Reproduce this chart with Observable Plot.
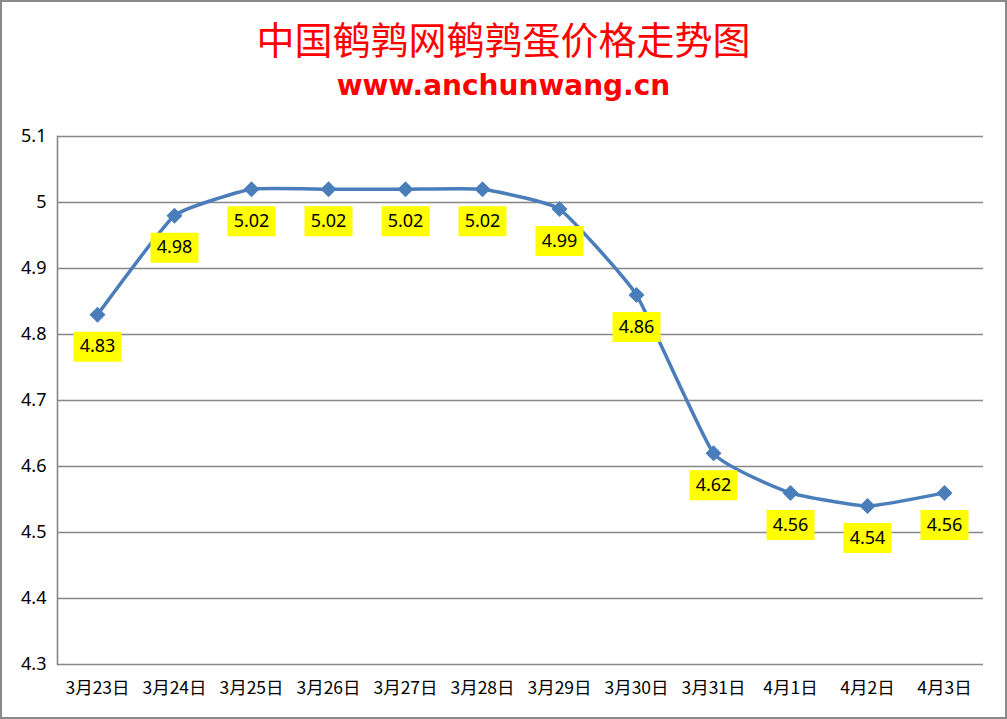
<!DOCTYPE html>
<html><head><meta charset="utf-8">
<script src="https://cdn.jsdelivr.net/npm/d3@7"></script>
<script src="https://cdn.jsdelivr.net/npm/@observablehq/plot@0.6"></script>
<style>
html,body{margin:0;padding:0;background:#fff;}
#wrap{position:relative;box-sizing:border-box;width:1007px;height:719px;border:2px solid #898989;background:#fff;overflow:hidden;}
#title{position:absolute;left:0;right:0;top:13px;text-align:center;font-family:"Noto Sans CJK SC",sans-serif;font-size:38px;line-height:46px;color:#ff0000;}
#sub{position:absolute;left:0;right:0;top:64px;text-align:center;font-family:"DejaVu Sans",sans-serif;font-weight:bold;font-size:28px;line-height:40px;color:#ff0000;}
#chart{position:absolute;left:0;top:105px;}
</style></head>
<body>
<div id="wrap">
<div id="title">中国鹌鹑网鹌鹑蛋价格走势图</div>
<div id="sub">www.anchunwang.cn</div>
<div id="chart"></div>
</div>
<script>
const dates = ["3月23日","3月24日","3月25日","3月26日","3月27日","3月28日","3月29日","3月30日","3月31日","4月1日","4月2日","4月3日"];
const prices = [4.83,4.98,5.02,5.02,5.02,5.02,4.99,4.86,4.62,4.56,4.54,4.56];
const yTicks = [4.3,4.4,4.5,4.6,4.7,4.8,4.9,5.0,5.1];

const data = dates.map((d,i)=>({date:d, price:prices[i]}));
const diamond = {draw(ctx){ctx.moveTo(0,-8);ctx.lineTo(8,0);ctx.lineTo(0,8);ctx.lineTo(-8,0);ctx.closePath();}};
const box = {draw(ctx){ctx.rect(-24,-15,48,30);}};
const gridColor = "#878787";

const chart = Plot.plot({
  width: 1003,
  height: 610,
  marginTop: 29,
  marginBottom: 53,
  marginLeft: 55,
  marginRight: 22,
  style: {fontFamily: "'Noto Sans', 'Noto Sans CJK SC', sans-serif", fontSize: "16px", color: "#000", background: "#fff"},
  x: {type: "point", domain: dates, padding: 0.5, label: null},
  y: {domain: [4.3, 5.1], ticks: yTicks, label: null},
  marks: [
    Plot.gridY(yTicks, {stroke: gridColor, strokeOpacity: 1, strokeWidth: 1.6}),
    Plot.frame({anchor: "left", stroke: gridColor, strokeWidth: 1.6}),
    Plot.axisY(yTicks, {tickSize: 0, tickPadding: 11, tickFormat: d => String(+d.toFixed(1)), fontSize: 18, fill: "#000"}),
    Plot.axisX({tickSize: 0, tickPadding: 17, fontSize: 17.5, fontFamily: "'Noto Sans CJK SC', sans-serif", fill: "#000"}),
    Plot.line(data, {x: "date", y: "price", stroke: "#4A7EBB", strokeWidth: 3.5, curve: "cardinal", tension: 0.6}),
    Plot.dot(data, {x: "date", y: "price", symbol: diamond, fill: "#4A7EBB", stroke: "none"}),
    Plot.dot(data, {x: "date", y: "price", symbol: box, fill: "#FFFF00", stroke: "none", dy: 32}),
    Plot.text(data, {x: "date", y: "price", text: d => d.price.toFixed(2), dy: 32, fontSize: 18, fill: "#000"})
  ]
});
document.getElementById("chart").appendChild(chart);
</script>
</body></html>
